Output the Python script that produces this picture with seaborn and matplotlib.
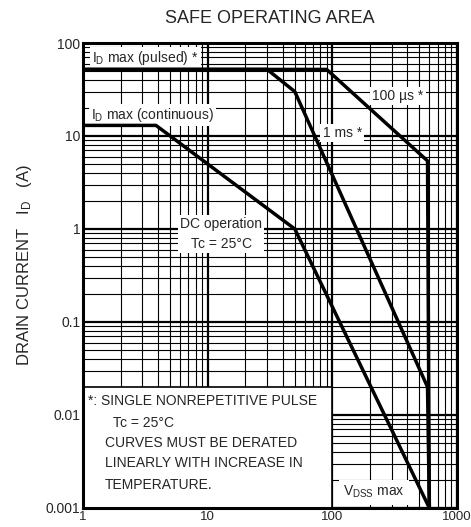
import numpy as np
import pandas as pd
import matplotlib
matplotlib.use("Agg")
import matplotlib.pyplot as plt
import matplotlib.ticker as mticker
from matplotlib.patches import Rectangle
import seaborn as sns

# curve data (volts, amps)
dc_v = [1, 3.85, 50, 600]
dc_i = [13, 13, 1, 0.001]
ms1_v = [1, 30, 50, 580, 600]
ms1_i = [52, 52, 30, 0.02, 0.001]
us100_v = [1, 90, 580, 600]
us100_i = [52, 52, 5.4, 0.001]

x_ticks = [1, 10, 100, 1000]
x_tick_labels = ["1", "10", "100", "1000"]
y_ticks = [0.001, 0.01, 0.1, 1, 10, 100]
y_tick_labels = ["0.001", "0.01", "0.1", "1", "10", "100"]

footnote = ["*: SINGLE NONREPETITIVE PULSE", "Tc = 25°C", "CURVES MUST BE DERATED",
            "LINEARLY WITH INCREASE IN", "TEMPERATURE."]

df = pd.concat([
    pd.DataFrame({"V": dc_v, "I": dc_i, "curve": "DC"}),
    pd.DataFrame({"V": ms1_v, "I": ms1_i, "curve": "1ms"}),
    pd.DataFrame({"V": us100_v, "I": us100_i, "curve": "100us"}),
])

sns.set_style("white")
plt.rcParams["font.family"] = ["Liberation Sans", "DejaVu Sans"]
plt.rcParams["mathtext.fontset"] = "custom"
plt.rcParams["mathtext.rm"] = "Liberation Sans"
plt.rcParams["mathtext.it"] = "Liberation Sans"

fig = plt.figure(figsize=(4.71, 5.27), dpi=100)
ax = fig.add_axes([0.1762, 0.0361, 0.7941, 0.8823])

sns.lineplot(data=df, x="V", y="I", units="curve", estimator=None, sort=False,
             color="black", lw=2.5, ax=ax, legend=False, zorder=4)

ax.set_xscale("log")
ax.set_yscale("log")
ax.set_xlim(1, 1000)
ax.set_ylim(0.001, 100)

ax.xaxis.set_major_locator(mticker.FixedLocator(x_ticks))
ax.xaxis.set_major_formatter(mticker.FixedFormatter(x_tick_labels))
ax.yaxis.set_major_locator(mticker.FixedLocator(y_ticks))
ax.yaxis.set_major_formatter(mticker.FixedFormatter(y_tick_labels))
ax.xaxis.set_minor_locator(mticker.LogLocator(base=10, subs=np.arange(2, 10), numticks=20))
ax.yaxis.set_minor_locator(mticker.LogLocator(base=10, subs=np.arange(2, 10), numticks=20))
ax.xaxis.set_minor_formatter(mticker.NullFormatter())
ax.yaxis.set_minor_formatter(mticker.NullFormatter())

ax.set_axisbelow(True)
ax.grid(which="major", color="black", lw=1.6)
ax.grid(which="minor", color="black", lw=0.8)
ax.tick_params(which="both", length=0, labelsize=10)
ax.tick_params(axis="x", pad=2, labelsize=9.5)
ax.tick_params(axis="y", pad=2)
for s in ax.spines.values():
    s.set_linewidth(2.2)
    s.set_color("black")
ax.set_xlabel("")
ax.set_ylabel("")

# footnote box hides the grid
ax.add_patch(Rectangle((1, 0.001), 99, 0.019, facecolor="white", edgecolor="black",
                       lw=1.2, zorder=2))

box = dict(facecolor="white", edgecolor="none", pad=1.5)
ax.text(0.024, 0.968, r"I$_\mathrm{D}$ max (pulsed) *", transform=ax.transAxes,
        fontsize=10, ha="left", va="center", bbox=box, zorder=3)
ax.text(0.021, 0.845, r"I$_\mathrm{D}$ max (continuous)", transform=ax.transAxes,
        fontsize=10, ha="left", va="center", bbox=box, zorder=3)
ax.text(0.842, 0.886, "100 µs *", transform=ax.transAxes,
        fontsize=10, ha="center", va="center", bbox=box, zorder=3)
ax.text(0.693, 0.806, "1 ms *", transform=ax.transAxes,
        fontsize=10, ha="center", va="center", bbox=box, zorder=3)
ax.text(0.370, 0.589, "DC operation\nTc = 25°C", transform=ax.transAxes,
        fontsize=10, ha="center", va="center", linespacing=1.5, bbox=box, zorder=3)
ax.text(0.778, 0.034, r"V$_\mathrm{DSS}$ max", transform=ax.transAxes,
        fontsize=10, ha="center", va="center", bbox=dict(facecolor="white", edgecolor="none", pad=3), zorder=3)

fn_x = [0.0134, 0.080, 0.059, 0.059, 0.059]
fn_y = [0.230, 0.183, 0.140, 0.097, 0.049]
for t, xx, yy in zip(footnote, fn_x, fn_y):
    ax.text(xx, yy, t, transform=ax.transAxes, fontsize=10, ha="left", va="center", zorder=3)

fig.text(0.573, 0.964, "SAFE OPERATING AREA", ha="center", va="center", fontsize=13)
fig.text(0.051, 0.497, r"DRAIN CURRENT   I$_\mathrm{D}$   (A)", rotation=90,
         ha="center", va="center", fontsize=12)

fig.savefig("out.png", dpi=100)
